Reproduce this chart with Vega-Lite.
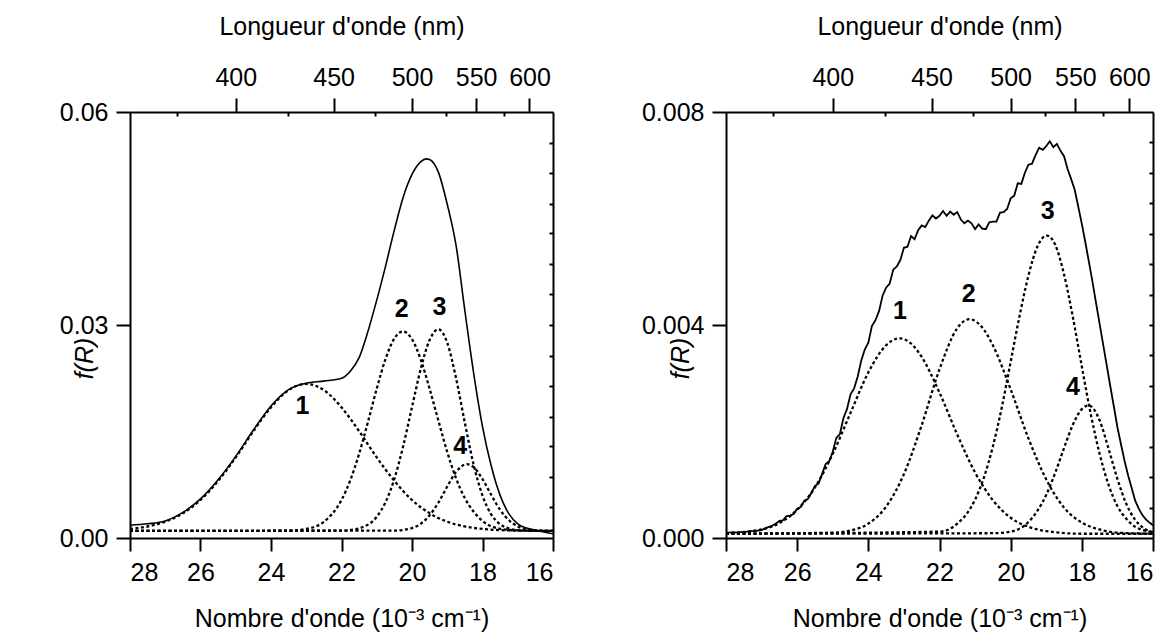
{
"$schema": "https://vega.github.io/schema/vega-lite/v6.json",
"padding": {"left": 59, "top": 14, "right": 5, "bottom": 5},
"bounds": "flush",
"spacing": 173,
"config": {
 "font": "Liberation Sans",
 "view": {"stroke": null},
 "axis": {"domainColor": "black", "domainWidth": 2, "tickColor": "black", "tickWidth": 2, "labelColor": "black", "titleColor": "black", "labelFontSize": 25, "titleFontSize": 25, "titleFontWeight": "normal", "grid": false, "labelFont": "Liberation Sans", "titleFont": "Liberation Sans"}
},
"datasets": {
 "lc": [
  {"c":"1","x":28,"y":0.00128},{"c":"1","x":27.5,"y":0.00162},{"c":"1","x":27,"y":0.0023},{"c":"1","x":26.5,"y":0.00348},{"c":"1","x":26,"y":0.00535},{"c":"1","x":25.5,"y":0.00804},{"c":"1","x":25,"y":0.01135},{"c":"1","x":24.5,"y":0.01504},{"c":"1","x":24,"y":0.0184},{"c":"1","x":23.5,"y":0.02083},{"c":"1","x":23,"y":0.0217},{"c":"1","x":22.5,"y":0.02083},{"c":"1","x":22,"y":0.0184},{"c":"1","x":21.5,"y":0.01504},{"c":"1","x":21,"y":0.01135},{"c":"1","x":20.5,"y":0.00804},{"c":"1","x":20,"y":0.00535},{"c":"1","x":19.5,"y":0.00348},{"c":"1","x":19,"y":0.0023},{"c":"1","x":18.5,"y":0.00162},{"c":"1","x":18,"y":0.00128},{"c":"1","x":17,"y":0.00104},{"c":"1","x":16,"y":0.001},
  {"c":"2","x":28,"y":0.001},{"c":"2","x":25,"y":0.001},{"c":"2","x":23.5,"y":0.00104},{"c":"2","x":23,"y":0.00128},{"c":"2","x":22.5,"y":0.00228},{"c":"2","x":22,"y":0.00536},{"c":"2","x":21.75,"y":0.00814},{"c":"2","x":21.5,"y":0.01187},{"c":"2","x":21.25,"y":0.01634},{"c":"2","x":21,"y":0.02104},{"c":"2","x":20.75,"y":0.02522},{"c":"2","x":20.5,"y":0.02811},{"c":"2","x":20.26,"y":0.0291},{"c":"2","x":20,"y":0.028},{"c":"2","x":19.75,"y":0.0251},{"c":"2","x":19.5,"y":0.021},{"c":"2","x":19.25,"y":0.0165},{"c":"2","x":19,"y":0.0121},{"c":"2","x":18.75,"y":0.0084},{"c":"2","x":18.5,"y":0.0056},{"c":"2","x":18.25,"y":0.0037},{"c":"2","x":18,"y":0.0024},{"c":"2","x":17.5,"y":0.0013},{"c":"2","x":17,"y":0.00106},{"c":"2","x":16,"y":0.001},
  {"c":"3","x":28,"y":0.001},{"c":"3","x":22,"y":0.00104},{"c":"3","x":21.75,"y":0.00113},{"c":"3","x":21.5,"y":0.00136},{"c":"3","x":21,"y":0.003},{"c":"3","x":20.75,"y":0.00506},{"c":"3","x":20.5,"y":0.00833},{"c":"3","x":20.25,"y":0.01293},{"c":"3","x":20,"y":0.01844},{"c":"3","x":19.75,"y":0.02386},{"c":"3","x":19.5,"y":0.0279},{"c":"3","x":19.25,"y":0.0294},{"c":"3","x":19,"y":0.0275},{"c":"3","x":18.75,"y":0.0225},{"c":"3","x":18.5,"y":0.0162},{"c":"3","x":18.25,"y":0.0103},{"c":"3","x":18,"y":0.00597},{"c":"3","x":17.75,"y":0.0033},{"c":"3","x":17.5,"y":0.00194},{"c":"3","x":17.25,"y":0.00133},{"c":"3","x":17,"y":0.0011},{"c":"3","x":16,"y":0.001},
  {"c":"4","x":28,"y":0.001},{"c":"4","x":20.5,"y":0.00104},{"c":"4","x":20,"y":0.0014},{"c":"4","x":19.75,"y":0.00202},{"c":"4","x":19.5,"y":0.00319},{"c":"4","x":19.25,"y":0.005},{"c":"4","x":19,"y":0.00725},{"c":"4","x":18.75,"y":0.0093},{"c":"4","x":18.44,"y":0.0104},{"c":"4","x":18.25,"y":0.00997},{"c":"4","x":18,"y":0.0083},{"c":"4","x":17.75,"y":0.00606},{"c":"4","x":17.5,"y":0.00397},{"c":"4","x":17.25,"y":0.0025},{"c":"4","x":17,"y":0.00164},{"c":"4","x":16.75,"y":0.00123},{"c":"4","x":16.5,"y":0.00107},{"c":"4","x":16,"y":0.001}
 ],
 "lt": [
  {"x":28,"y":0.0018},{"x":27.5,"y":0.002},{"x":27,"y":0.0024},{"x":26.5,"y":0.0036},{"x":26,"y":0.0055},{"x":25.5,"y":0.0082},{"x":25,"y":0.0115},{"x":24.5,"y":0.0152},{"x":24,"y":0.0186},{"x":23.5,"y":0.0209},{"x":23,"y":0.0218},{"x":22.5,"y":0.0221},{"x":22,"y":0.0225},{"x":21.75,"y":0.0235},{"x":21.5,"y":0.0254},{"x":21.25,"y":0.0291},{"x":21,"y":0.0335},{"x":20.75,"y":0.0383},{"x":20.5,"y":0.0434},{"x":20.25,"y":0.048},{"x":20,"y":0.0512},{"x":19.75,"y":0.053},{"x":19.6,"y":0.0534},{"x":19.5,"y":0.0533},{"x":19.25,"y":0.0515},{"x":19,"y":0.047},{"x":18.75,"y":0.0412},{"x":18.5,"y":0.032},{"x":18.25,"y":0.0232},{"x":18,"y":0.0157},{"x":17.75,"y":0.0101},{"x":17.5,"y":0.006},{"x":17.25,"y":0.0034},{"x":17,"y":0.002},{"x":16.75,"y":0.0014},{"x":16.5,"y":0.0011},{"x":16,"y":0.0006}
 ],
 "ll": [
  {"t":"1","x":23.11,"y":0.0186},{"t":"2","x":20.29,"y":0.0323},{"t":"3","x":19.22,"y":0.0326},{"t":"4","x":18.63,"y":0.0129}
 ],
 "rc": [
  {"c":"1","x":28,"y":0.00009},{"c":"1","x":27,"y":0.00016},{"c":"1","x":26.5,"y":0.00028},{"c":"1","x":26,"y":0.00053},{"c":"1","x":25.5,"y":0.00095},{"c":"1","x":25,"y":0.00158},{"c":"1","x":24.5,"y":0.00235},{"c":"1","x":24,"y":0.00311},{"c":"1","x":23.5,"y":0.00362},{"c":"1","x":23.13,"y":0.00375},{"c":"1","x":22.75,"y":0.00362},{"c":"1","x":22.5,"y":0.0034},{"c":"1","x":22,"y":0.00273},{"c":"1","x":21.5,"y":0.00194},{"c":"1","x":21,"y":0.00123},{"c":"1","x":20.5,"y":0.00071},{"c":"1","x":20,"y":0.00038},{"c":"1","x":19.5,"y":0.00021},{"c":"1","x":19,"y":0.00013},{"c":"1","x":18,"y":0.00008},{"c":"1","x":16,"y":0.00008},
  {"c":"2","x":28,"y":0.00008},{"c":"2","x":25,"y":0.0001},{"c":"2","x":24.5,"y":0.00014},{"c":"2","x":24,"y":0.00027},{"c":"2","x":23.5,"y":0.00059},{"c":"2","x":23,"y":0.0012},{"c":"2","x":22.5,"y":0.00212},{"c":"2","x":22,"y":0.00317},{"c":"2","x":21.5,"y":0.00394},{"c":"2","x":21.16,"y":0.00411},{"c":"2","x":20.75,"y":0.00391},{"c":"2","x":20.5,"y":0.00362},{"c":"2","x":20,"y":0.00279},{"c":"2","x":19.5,"y":0.00187},{"c":"2","x":19,"y":0.0011},{"c":"2","x":18.5,"y":0.00057},{"c":"2","x":18,"y":0.00029},{"c":"2","x":17.5,"y":0.00016},{"c":"2","x":17,"y":0.0001},{"c":"2","x":16,"y":0.00008},
  {"c":"3","x":28,"y":0.00008},{"c":"3","x":22,"y":0.00012},{"c":"3","x":21.5,"y":0.00027},{"c":"3","x":21,"y":0.00072},{"c":"3","x":20.75,"y":0.00114},{"c":"3","x":20.5,"y":0.00172},{"c":"3","x":20.25,"y":0.00245},{"c":"3","x":20,"y":0.00331},{"c":"3","x":19.75,"y":0.00417},{"c":"3","x":19.5,"y":0.00493},{"c":"3","x":19.25,"y":0.00547},{"c":"3","x":18.98,"y":0.00568},{"c":"3","x":18.75,"y":0.00551},{"c":"3","x":18.5,"y":0.00495},{"c":"3","x":18.25,"y":0.00414},{"c":"3","x":18,"y":0.00322},{"c":"3","x":17.75,"y":0.00233},{"c":"3","x":17.5,"y":0.00158},{"c":"3","x":17.25,"y":0.001},{"c":"3","x":17,"y":0.0006},{"c":"3","x":16.75,"y":0.00036},{"c":"3","x":16.5,"y":0.00021},{"c":"3","x":16,"y":0.00011},
  {"c":"4","x":28,"y":0.00008},{"c":"4","x":20.5,"y":0.00009},{"c":"4","x":20,"y":0.00012},{"c":"4","x":19.5,"y":0.0003},{"c":"4","x":19,"y":0.00081},{"c":"4","x":18.75,"y":0.00122},{"c":"4","x":18.5,"y":0.00169},{"c":"4","x":18.25,"y":0.00213},{"c":"4","x":18,"y":0.00242},{"c":"4","x":17.81,"y":0.00249},{"c":"4","x":17.5,"y":0.00221},{"c":"4","x":17.25,"y":0.00168},{"c":"4","x":17,"y":0.00111},{"c":"4","x":16.75,"y":0.00064},{"c":"4","x":16.5,"y":0.00034},{"c":"4","x":16.25,"y":0.00018},{"c":"4","x":16,"y":0.00011}
 ],
 "rt": [
  {"x":28.0,"y":0.00010},{"x":27.9,"y":0.00010},{"x":27.8,"y":0.00011},{"x":27.7,"y":0.00010},{"x":27.6,"y":0.00011},{"x":27.5,"y":0.00011},{"x":27.4,"y":0.00012},{"x":27.3,"y":0.00013},{"x":27.2,"y":0.00013},{"x":27.1,"y":0.00014},{"x":27.0,"y":0.00015},{"x":26.9,"y":0.00018},{"x":26.8,"y":0.00021},{"x":26.7,"y":0.00023},{"x":26.6,"y":0.00027},{"x":26.5,"y":0.00032},{"x":26.4,"y":0.00033},{"x":26.3,"y":0.00041},{"x":26.2,"y":0.00042},{"x":26.1,"y":0.00045},{"x":26.0,"y":0.00055},{"x":25.9,"y":0.00058},{"x":25.8,"y":0.00070},{"x":25.7,"y":0.00073},{"x":25.6,"y":0.00085},{"x":25.5,"y":0.00098},{"x":25.4,"y":0.00102},{"x":25.3,"y":0.00120},{"x":25.2,"y":0.00139},{"x":25.1,"y":0.00144},{"x":25.0,"y":0.00162},{"x":24.9,"y":0.00188},{"x":24.8,"y":0.00195},{"x":24.7,"y":0.00225},{"x":24.6,"y":0.00242},{"x":24.5,"y":0.00270},{"x":24.4,"y":0.00281},{"x":24.3,"y":0.00303},{"x":24.2,"y":0.00333},{"x":24.1,"y":0.00354},{"x":24.0,"y":0.00367},{"x":23.9,"y":0.00398},{"x":23.8,"y":0.00409},{"x":23.7,"y":0.00426},{"x":23.6,"y":0.00455},{"x":23.5,"y":0.00470},{"x":23.4,"y":0.00478},{"x":23.3,"y":0.00504},{"x":23.2,"y":0.00510},{"x":23.1,"y":0.00522},{"x":23.0,"y":0.00545},{"x":22.9,"y":0.00547},{"x":22.8,"y":0.00567},{"x":22.7,"y":0.00561},{"x":22.6,"y":0.00578},{"x":22.5,"y":0.00587},{"x":22.4,"y":0.00584},{"x":22.3,"y":0.00596},{"x":22.2,"y":0.00606},{"x":22.1,"y":0.00600},{"x":22.0,"y":0.00605},{"x":21.9,"y":0.00614},{"x":21.8,"y":0.00605},{"x":21.7,"y":0.00613},{"x":21.6,"y":0.00607},{"x":21.5,"y":0.00612},{"x":21.4,"y":0.00598},{"x":21.3,"y":0.00591},{"x":21.2,"y":0.00596},{"x":21.1,"y":0.00591},{"x":21.0,"y":0.00580},{"x":20.9,"y":0.00589},{"x":20.8,"y":0.00581},{"x":20.7,"y":0.00580},{"x":20.6,"y":0.00593},{"x":20.5,"y":0.00594},{"x":20.4,"y":0.00594},{"x":20.3,"y":0.00611},{"x":20.2,"y":0.00612},{"x":20.1,"y":0.00618},{"x":20.0,"y":0.00638},{"x":19.9,"y":0.00643},{"x":19.8,"y":0.00666},{"x":19.7,"y":0.00665},{"x":19.6,"y":0.00686},{"x":19.5,"y":0.00701},{"x":19.4,"y":0.00703},{"x":19.3,"y":0.00719},{"x":19.2,"y":0.00733},{"x":19.1,"y":0.00729},{"x":19.0,"y":0.00736},{"x":18.9,"y":0.00745},{"x":18.8,"y":0.00734},{"x":18.7,"y":0.00740},{"x":18.6,"y":0.00727},{"x":18.5,"y":0.00717},{"x":18.4,"y":0.00693},{"x":18.3,"y":0.00674},{"x":18.2,"y":0.00654},{"x":18.1,"y":0.00622},{"x":18.0,"y":0.00590},{"x":17.9,"y":0.00555},{"x":17.8,"y":0.00518},{"x":17.7,"y":0.00481},{"x":17.6,"y":0.00441},{"x":17.5,"y":0.00402},{"x":17.4,"y":0.00363},{"x":17.3,"y":0.00324},{"x":17.2,"y":0.00285},{"x":17.1,"y":0.00247},{"x":17.0,"y":0.00208},{"x":16.9,"y":0.00176},{"x":16.8,"y":0.00145},{"x":16.7,"y":0.00118},{"x":16.6,"y":0.00094},{"x":16.5,"y":0.00070},{"x":16.4,"y":0.00055},{"x":16.3,"y":0.00043},{"x":16.2,"y":0.00035},{"x":16.1,"y":0.00029},{"x":16.0,"y":0.00024}
 ],
 "rl": [
  {"t":"1","x":23.11,"y":0.00427},{"t":"2","x":21.18,"y":0.00458},{"t":"3","x":18.96,"y":0.00614},{"t":"4","x":18.25,"y":0.00283}
 ]
},
"hconcat": [
 {
  "width": 423, "height": 426,
  "layer": [
   {"data": {"name": "lc"},
    "mark": {"type": "line", "interpolate": "monotone", "strokeDash": [3, 2.5], "strokeWidth": 2.3, "color": "black"},
    "encoding": {
     "x": {"field": "x", "type": "quantitative", "scale": {"domain": [16, 28], "reverse": true, "nice": false, "zero": false},
      "axis": {"orient": "bottom", "values": [28, 26, 24, 22, 20, 18, 16], "format": "d", "title": "Nombre d'onde (10⁻³ cm⁻¹)", "tickSize": 13, "labelPadding": 9, "titlePadding": 21}},
     "y": {"field": "y", "type": "quantitative", "scale": {"domain": [0, 0.06], "nice": false, "zero": false},
      "axis": {"orient": "left", "values": [0, 0.03, 0.06], "format": ".2f", "title": "f(R)", "titleFontStyle": "italic", "tickSize": 14, "labelPadding": 8, "titleX": -46, "titleY": 246, "titleBaseline": "middle", "titleAlign": "center", "titleAngle": -90}},
     "detail": {"field": "c"}
    }},
   {"data": {"name": "lt"},
    "mark": {"type": "line", "interpolate": "monotone", "strokeWidth": 1.6, "color": "black"},
    "encoding": {
     "x": {"field": "x", "type": "quantitative",
      "axis": {"orient": "top", "values": [25, 22.2222, 20, 18.1818, 16.6667], "labelExpr": "format(10000/datum.value, '.0f')", "title": "Longueur d'onde (nm)", "tickSize": 14, "labelPadding": 8, "titlePadding": 26}},
     "y": {"field": "y", "type": "quantitative",
      "axis": {"orient": "right", "values": [0.0043, 0.0086, 0.0129, 0.0171, 0.0214, 0.0257, 0.03, 0.0343, 0.0386, 0.0429, 0.0471, 0.0514, 0.0557], "labels": false, "tickSize": -4, "title": null}}
    }},
   {"data": {"name": "lt"},
    "mark": {"type": "line", "opacity": 0},
    "encoding": {
     "x": {"field": "x", "type": "quantitative",
      "axis": {"orient": "top", "values": [26.6667, 23.5294, 21.0526, 19.0476, 17.3913], "labels": false, "domain": false, "tickSize": -4, "title": null}},
     "y": {"field": "y", "type": "quantitative", "axis": null}
    }},
   {"data": {"name": "ll"},
    "mark": {"type": "text", "fontWeight": "bold", "fontSize": 25, "font": "Liberation Sans", "color": "black"},
    "encoding": {
     "x": {"field": "x", "type": "quantitative", "axis": null},
     "y": {"field": "y", "type": "quantitative", "axis": null},
     "text": {"field": "t"}
    }}
  ],
  "resolve": {"axis": {"x": "independent", "y": "independent"}}
 },
 {
  "width": 427, "height": 426,
  "layer": [
   {"data": {"name": "rc"},
    "mark": {"type": "line", "interpolate": "monotone", "strokeDash": [3, 2.5], "strokeWidth": 2.3, "color": "black"},
    "encoding": {
     "x": {"field": "x", "type": "quantitative", "scale": {"domain": [16, 28], "reverse": true, "nice": false, "zero": false},
      "axis": {"orient": "bottom", "values": [28, 26, 24, 22, 20, 18, 16], "format": "d", "title": "Nombre d'onde (10⁻³ cm⁻¹)", "tickSize": 13, "labelPadding": 9, "titlePadding": 21}},
     "y": {"field": "y", "type": "quantitative", "scale": {"domain": [0, 0.008], "nice": false, "zero": false},
      "axis": {"orient": "left", "values": [0, 0.004, 0.008], "format": ".3f", "title": "f(R)", "titleFontStyle": "italic", "tickSize": 14, "labelPadding": 8, "titleX": -46, "titleY": 246, "titleBaseline": "middle", "titleAlign": "center", "titleAngle": -90}},
     "detail": {"field": "c"}
    }},
   {"data": {"name": "rt"},
    "mark": {"type": "line", "strokeWidth": 1.8, "color": "black"},
    "encoding": {
     "x": {"field": "x", "type": "quantitative",
      "axis": {"orient": "top", "values": [25, 22.2222, 20, 18.1818, 16.6667], "labelExpr": "format(10000/datum.value, '.0f')", "title": "Longueur d'onde (nm)", "tickSize": 14, "labelPadding": 8, "titlePadding": 26}},
     "y": {"field": "y", "type": "quantitative",
      "axis": {"orient": "right", "values": [0.00057, 0.00114, 0.00171, 0.00229, 0.00286, 0.00343, 0.004, 0.00457, 0.00514, 0.00571, 0.00629, 0.00686, 0.00743], "labels": false, "tickSize": -4, "title": null}}
    }},
   {"data": {"name": "rt"},
    "mark": {"type": "line", "opacity": 0},
    "encoding": {
     "x": {"field": "x", "type": "quantitative",
      "axis": {"orient": "top", "values": [26.6667, 23.5294, 21.0526, 19.0476, 17.3913], "labels": false, "domain": false, "tickSize": -4, "title": null}},
     "y": {"field": "y", "type": "quantitative", "axis": null}
    }},
   {"data": {"name": "rl"},
    "mark": {"type": "text", "fontWeight": "bold", "fontSize": 25, "font": "Liberation Sans", "color": "black"},
    "encoding": {
     "x": {"field": "x", "type": "quantitative", "axis": null},
     "y": {"field": "y", "type": "quantitative", "axis": null},
     "text": {"field": "t"}
    }}
  ],
  "resolve": {"axis": {"x": "independent", "y": "independent"}}
 }
]
}
